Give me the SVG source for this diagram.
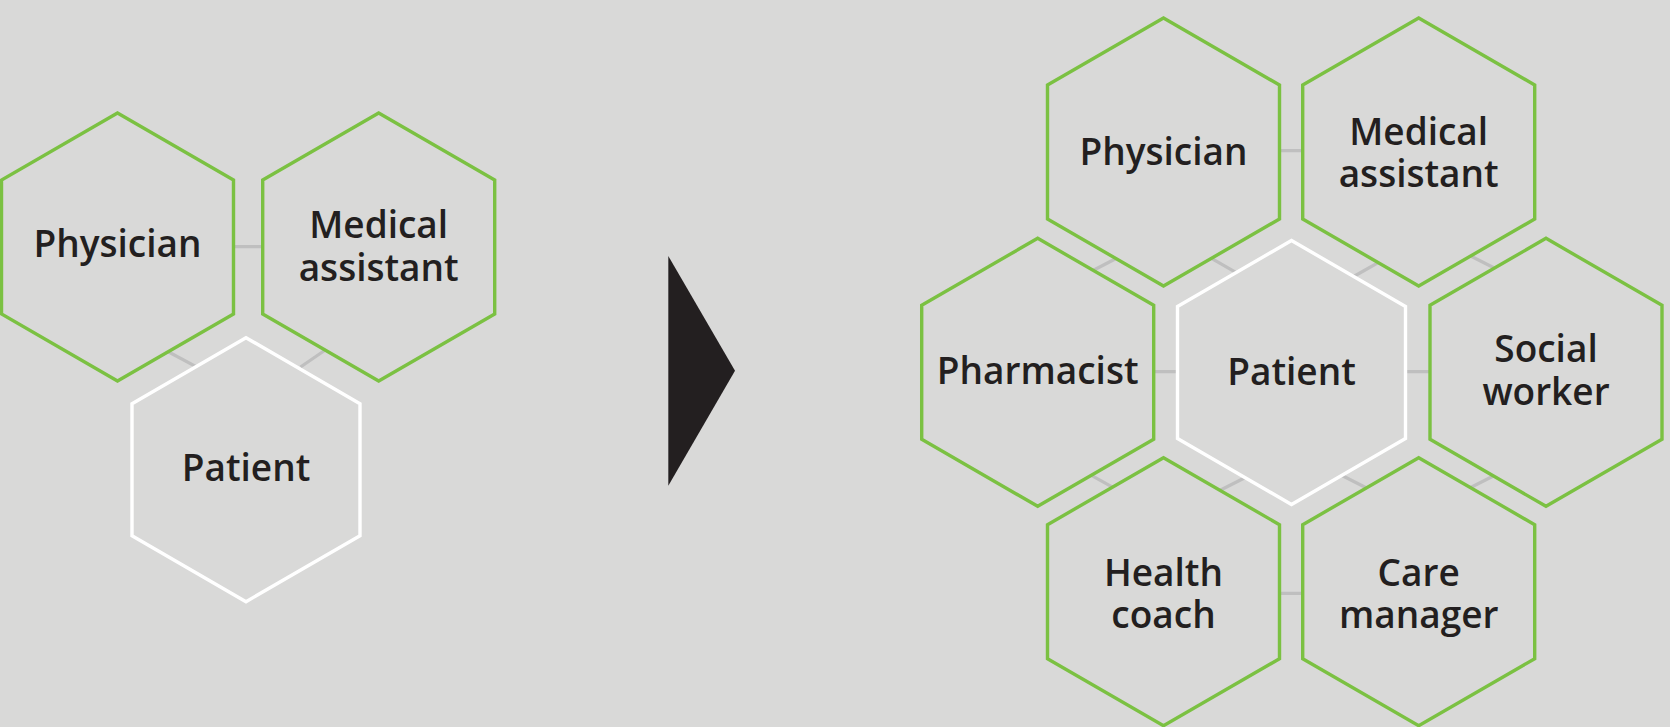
<svg xmlns="http://www.w3.org/2000/svg" xmlns:xlink="http://www.w3.org/1999/xlink" width="1670" height="727" viewBox="0 0 1670 727">
<style>
.bg{fill:#d9d9d8}
.hexg{fill:#d9d9d8;stroke:#7bc142;stroke-width:3.4}
.hexw{fill:#d9d9d8;stroke:#ffffff;stroke-width:3.4}
.conn line{stroke:#bfbfbf;stroke-width:3.2;fill:none}
text{font-family:"Open Sans","Liberation Sans",sans-serif;font-weight:600;font-size:37px;fill:#231f20;text-anchor:middle}
</style>
<defs>
<polygon id="hexL" points="0,-134 116,-67 116,67 0,134 -116,67 -116,-67"/>
<polygon id="hexS" points="0,-132 114,-66 114,66 0,132 -114,66 -114,-66"/>
</defs>
<rect class="bg" x="0" y="0" width="1670" height="727"/>
<g id="connectors" class="conn">
<line x1="228" y1="246.7" x2="267" y2="246.7"/>
<line x1="164" y1="349.5" x2="197" y2="367.2"/>
<line x1="300.5" y1="367" x2="327.5" y2="348.5"/>
<line x1="1274" y1="150.7" x2="1308" y2="150.7"/>
<line x1="1148" y1="371.7" x2="1183" y2="371.7"/>
<line x1="1400" y1="371.7" x2="1435" y2="371.7"/>
<line x1="1275" y1="593.3" x2="1308" y2="593.3"/>
<line x1="1091" y1="271.5" x2="1119" y2="257"/>
<line x1="1208" y1="256.3" x2="1238" y2="273.7"/>
<line x1="1352.8" y1="277" x2="1380.4" y2="261.3"/>
<line x1="1468.2" y1="254.7" x2="1495.8" y2="268.7"/>
<line x1="1090" y1="474.7" x2="1115.2" y2="488.7"/>
<line x1="1220.2" y1="490.3" x2="1247.8" y2="476.3"/>
<line x1="1340.5" y1="474.7" x2="1368.1" y2="488.7"/>
<line x1="1468.2" y1="488.7" x2="1495.8" y2="474.7"/>
</g>
<g id="left-physician"><use xlink:href="#hexL" href="#hexL" class="hexg" x="117.5" y="247"/><text x="117.5" y="256.7">Physician</text></g>
<g id="left-medical-assistant"><use xlink:href="#hexL" href="#hexL" class="hexg" x="378.7" y="247"/><text x="378.7" y="237.7">Medical</text><text x="378.7" y="281">assistant</text></g>
<g id="left-patient"><use xlink:href="#hexS" href="#hexS" class="hexw" x="246" y="469.7"/><text x="246" y="481">Patient</text></g>
<g id="arrow"><polygon points="668.3,256 735,370.7 668.3,485.7" fill="#231f20"/></g>
<g id="right-physician"><use xlink:href="#hexL" href="#hexL" class="hexg" x="1163.5" y="152"/><text x="1163.5" y="165">Physician</text></g>
<g id="right-medical-assistant"><use xlink:href="#hexL" href="#hexL" class="hexg" x="1418.7" y="152"/><text x="1418.7" y="145">Medical</text><text x="1418.7" y="187.3">assistant</text></g>
<g id="right-pharmacist"><use xlink:href="#hexL" href="#hexL" class="hexg" x="1037.7" y="372.3"/><text x="1037.7" y="384">Pharmacist</text></g>
<g id="right-patient"><use xlink:href="#hexS" href="#hexS" class="hexw" x="1291.5" y="372.5"/><text x="1291.5" y="385">Patient</text></g>
<g id="right-social-worker"><use xlink:href="#hexL" href="#hexL" class="hexg" x="1546" y="372.3"/><text x="1546" y="362.3">Social</text><text x="1546" y="405">worker</text></g>
<g id="right-health-coach"><use xlink:href="#hexL" href="#hexL" class="hexg" x="1163.5" y="591.7"/><text x="1163.5" y="585.7">Health</text><text x="1163.5" y="628.3">coach</text></g>
<g id="right-care-manager"><use xlink:href="#hexL" href="#hexL" class="hexg" x="1418.7" y="591.7"/><text x="1418.7" y="585.7">Care</text><text x="1418.7" y="628.3">manager</text></g>
</svg>
